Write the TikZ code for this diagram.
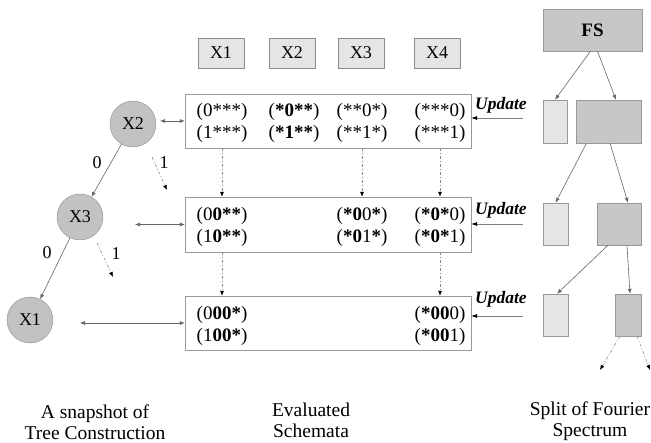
\documentclass[tikz,border=0pt]{standalone}
\usepackage{fontspec}
\setmainfont{Liberation Serif}
\usetikzlibrary{arrows.meta}
\begin{document}
\begin{tikzpicture}[x=1pt,y=-1pt,
  xbox/.style={draw=black!45, fill=black!10, minimum width=46pt, minimum height=30pt, inner sep=0pt, font=\fontsize{18}{20}\selectfont},
  sbox/.style={draw=black!40, fill=white, inner sep=0pt},
  sch/.style={align=center, inner sep=0pt, font=\fontsize{19}{22}\selectfont},
  tnode/.style={circle, draw=black!45, fill=black!24, minimum size=46pt, inner sep=0pt, font=\fontsize{18}{20}\selectfont},
  fdark/.style={draw=black!40, fill=black!22, inner sep=0pt},
  flight/.style={draw=black!40, fill=black!10, inner sep=0pt},
  lbl/.style={inner sep=0pt, font=\fontsize{18}{20}\selectfont},
  captxt/.style={align=center, inner sep=0pt, font=\fontsize{19.5}{21}\selectfont},
  upd/.style={inner sep=0pt, font=\fontsize{17.5}{20}\selectfont\bfseries\itshape},
  tarr/.style={draw=black!60, line width=0.6pt, -{Latex[length=5pt,width=4pt]}},
  biarr/.style={draw=black!60, line width=0.6pt, {Latex[length=5pt,width=4pt]}-{Latex[length=5pt,width=4pt]}},
  darr/.style={draw=black!45, line width=0.6pt, dash pattern=on 3pt off 2pt on 1pt off 2pt, -{Latex[length=5pt,width=4pt,black]}},
  uarr/.style={draw=black!50, line width=0.6pt, -{Latex[length=6pt,width=4pt,black]}}
]
\useasboundingbox (0,0) rectangle (651,443);

% top variable boxes
\node[xbox] (hx1) at (221,53) {X1};
\node[xbox] (hx2) at (292,53) {X2};
\node[xbox] (hx3) at (361,53) {X3};
\node[xbox] (hx4) at (437,53) {X4};

% schemata boxes
\node[sbox, minimum width=286pt, minimum height=54pt] (b1) at (328,121) {};
\node[sbox, minimum width=286pt, minimum height=55pt] (b2) at (328,224.5) {};
\node[sbox, minimum width=286pt, minimum height=54pt] (b3) at (328,323) {};

\node[sch] (s11) at (222,123) {(0***)\\(1***)};
\node[sch] (s12) at (294,123) {(\textbf{*0**})\\(\textbf{*1**})};
\node[sch] (s13) at (362,123) {(**0*)\\(**1*)};
\node[sch] (s14) at (440,123) {(***0)\\(***1)};

\node[sch] (s21) at (222,227) {(0\textbf{0**})\\(1\textbf{0**})};
\node[sch] (s23) at (362,227) {(\textbf{*0}0\textbf{*})\\(\textbf{*0}1\textbf{*})};
\node[sch] (s24) at (440,227) {(\textbf{*0*}0)\\(\textbf{*0*}1)};

\node[sch] (s31) at (222,326) {(0\textbf{00*})\\(1\textbf{00*})};
\node[sch] (s34) at (440,326) {(\textbf{*00}0)\\(\textbf{*00}1)};

% dashed arrows between boxes
\draw[darr] (b1.south -| s11) -- (b2.north -| s11);
\draw[darr] (b1.south -| s13) -- (b2.north -| s13);
\draw[darr] (b1.south -| s14) -- (b2.north -| s14);
\draw[darr] (b2.south -| s21) -- (b3.north -| s21);
\draw[darr] (b2.south -| s24) -- (b3.north -| s24);

% update labels
\node[upd] (u1t) at (501,105) {Update};
\node[upd] (u2t) at (501,210) {Update};
\node[upd] (u3t) at (501,299) {Update};
\coordinate (u1) at (523,118);
\coordinate (u2) at (523,224);
\coordinate (u3) at (523,316);
\draw[uarr] (u1) -- (u1 -| b1.east);
\draw[uarr] (u2) -- (u2 -| b2.east);
\draw[uarr] (u3) -- (u3 -| b3.east);

% tree
\node[tnode] (x2) at (133,124) {X2};
\node[tnode] (x3) at (80,217) {X3};
\node[tnode] (x1) at (30,320) {X1};
\draw[tarr] (x2) -- (x3);
\draw[tarr] (x3) -- (x1);
\node[lbl] (l0a) at (97,163) {0};
\node[lbl] (l0b) at (47,253) {0};
\coordinate (d2a) at (152,157);
\coordinate (d2b) at (167,190);
\coordinate (d3a) at (97,243);
\coordinate (d3b) at (113,277);
\draw[darr] (d2a) -- (d2b);
\draw[darr] (d3a) -- (d3b);
\node[lbl] (l1a) at (164,163) {1};
\node[lbl] (l1b) at (116,254) {1};

\coordinate (a2) at (160,121);
\coordinate (a3) at (135,224.5);
\coordinate (a1) at (80,323);
\draw[biarr] (a2) -- (b1.west);
\draw[biarr] (a3) -- (b2.west);
\draw[biarr] (a1) -- (b3.west);

% Fourier spectrum split
\node[fdark, minimum width=99pt, minimum height=42pt, font=\fontsize{19}{20}\selectfont\bfseries] (fs) at (592.5,30) {FS};
\node[flight, minimum width=24pt, minimum height=43pt] (f2a) at (555,121.5) {};
\node[fdark, minimum width=65pt, minimum height=43pt] (f2b) at (608.5,121.5) {};
\node[flight, minimum width=25pt, minimum height=42pt] (f3a) at (555.5,224) {};
\node[fdark, minimum width=44pt, minimum height=42pt] (f3b) at (619,224) {};
\node[flight, minimum width=25pt, minimum height=42pt] (f4a) at (555.5,315) {};
\node[fdark, minimum width=26pt, minimum height=42pt] (f4b) at (628,315) {};

\draw[tarr] ([xshift=-2pt]fs.south) -- (f2a.north);
\draw[tarr] ([xshift=5pt]fs.south) -- ([xshift=7.5pt]f2b.north);
\draw[tarr] ([xshift=-22pt]f2b.south) -- (f3a.north);
\draw[tarr] ([xshift=1.5pt]f2b.south) -- ([xshift=9pt]f3b.north);
\draw[tarr] ([xshift=-11pt]f3b.south) -- ([xshift=1.5pt]f4a.north);
\draw[tarr] ([xshift=8pt]f3b.south) -- ([xshift=2pt]f4b.north);
\coordinate (e1) at (600,370);
\coordinate (e2) at (650,370);
\draw[darr] ([xshift=-8pt]f4b.south) -- (e1);
\draw[darr] ([xshift=9pt]f4b.south) -- (e2);

% captions
\node[captxt] (c1) at (95,422) {A snapshot of\\Tree Construction};
\node[captxt] (c2) at (311,420) {Evaluated\\Schemata};
\node[captxt] (c3) at (590,421) {Split of Fourier\\Spectrum};
\end{tikzpicture}
\end{document}
